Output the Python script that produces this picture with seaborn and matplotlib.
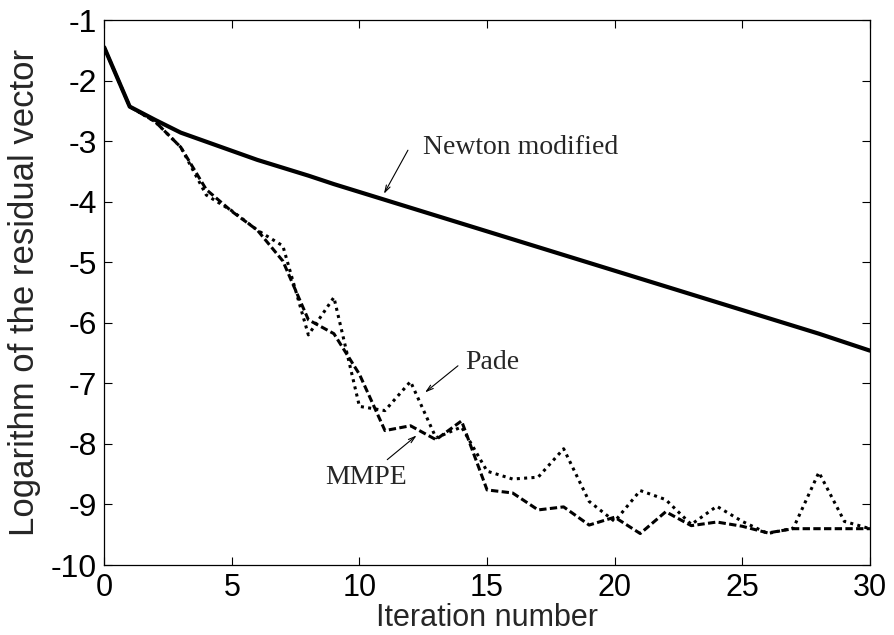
import matplotlib
matplotlib.use("Agg")
import matplotlib.pyplot as plt
import seaborn as sns
import numpy as np

# values
iterations = list(range(31))
newton = [-1.45, -2.43, -2.65, -2.86, -3.01, -3.16, -3.31, -3.44, -3.57, -3.71, -3.84,
          -3.97, -4.10, -4.23, -4.36, -4.49, -4.62, -4.75, -4.88, -5.01, -5.14,
          -5.27, -5.40, -5.53, -5.66, -5.79, -5.92, -6.05, -6.18, -6.32, -6.46]
pade = [-1.45, -2.43, -2.68, -3.10, -3.89, -4.15, -4.47, -4.73, -6.20, -5.58, -7.38,
        -7.45, -6.97, -7.90, -7.72, -8.45, -8.58, -8.55, -8.08, -8.95, -9.28,
        -8.77, -8.92, -9.33, -9.03, -9.28, -9.48, -9.39, -8.47, -9.28, -9.40]
mmpe = [-1.45, -2.43, -2.68, -3.10, -3.80, -4.16, -4.47, -4.98, -5.95, -6.18, -6.85,
        -7.78, -7.70, -7.93, -7.62, -8.76, -8.81, -9.09, -9.04, -9.34, -9.21,
        -9.48, -9.12, -9.35, -9.29, -9.36, -9.47, -9.40, -9.40, -9.40, -9.40]
xticks = [0, 5, 10, 15, 20, 25, 30]
yticks = [-10, -9, -8, -7, -6, -5, -4, -3, -2, -1]

sns.set_style("ticks")
plt.rcParams['font.family'] = ['Liberation Sans', 'DejaVu Sans']
plt.rcParams['axes.unicode_minus'] = False

fig = plt.figure(figsize=(8.95, 6.35), dpi=100)
ax = fig.add_axes([0.1164, 0.1102, 0.8556, 0.8583])

sns.lineplot(x=iterations, y=newton, ax=ax, color='black', lw=3.0)
sns.lineplot(x=iterations, y=pade, ax=ax, color='black', lw=2.2)
ax.lines[-1].set_dashes([1.0, 1.4])
sns.lineplot(x=iterations, y=mmpe, ax=ax, color='black', lw=2.2)
ax.lines[-1].set_dashes([2.4, 1.1])

ax.set_xlim(0, 30)
ax.set_ylim(-10, -1)
ax.set_xticks(xticks)
ax.set_yticks(yticks)
ax.tick_params(direction='in', length=5.5, width=0.8, top=True, right=True,
               labelsize=23, colors='black')
ax.tick_params(axis='x', pad=6, labelsize=22)
ax.tick_params(axis='y', pad=5)
for s in ax.spines.values():
    s.set_linewidth(0.9)
    s.set_color('black')

ax.set_xlabel('Iteration number', fontsize=22, labelpad=0)
ax.set_ylabel('Logarithm of the residual vector', fontsize=25, labelpad=7)

serif = ['Liberation Serif', 'DejaVu Serif']
arrow = dict(arrowstyle='->,head_length=0.5,head_width=0.15', lw=0.8, color='black',
             shrinkA=0, shrinkB=0)

ax.text(12.5, -3.11, 'Newton modified', family=serif, fontsize=20, va='center', ha='left')
ax.annotate('', xy=(10.96, -3.87), xytext=(11.9, -3.15), arrowprops=arrow)

ax.text(14.13, -6.66, 'Pade', family=serif, fontsize=20, va='center', ha='left')
ax.annotate('', xy=(12.57, -7.15), xytext=(13.86, -6.71), arrowprops=arrow)

ax.text(8.65, -8.56, 'MMPE', family=serif, fontsize=20, va='center', ha='left')
ax.annotate('', xy=(12.24, -7.86), xytext=(11.09, -8.26), arrowprops=arrow)

plt.savefig('out.png', dpi=100)
